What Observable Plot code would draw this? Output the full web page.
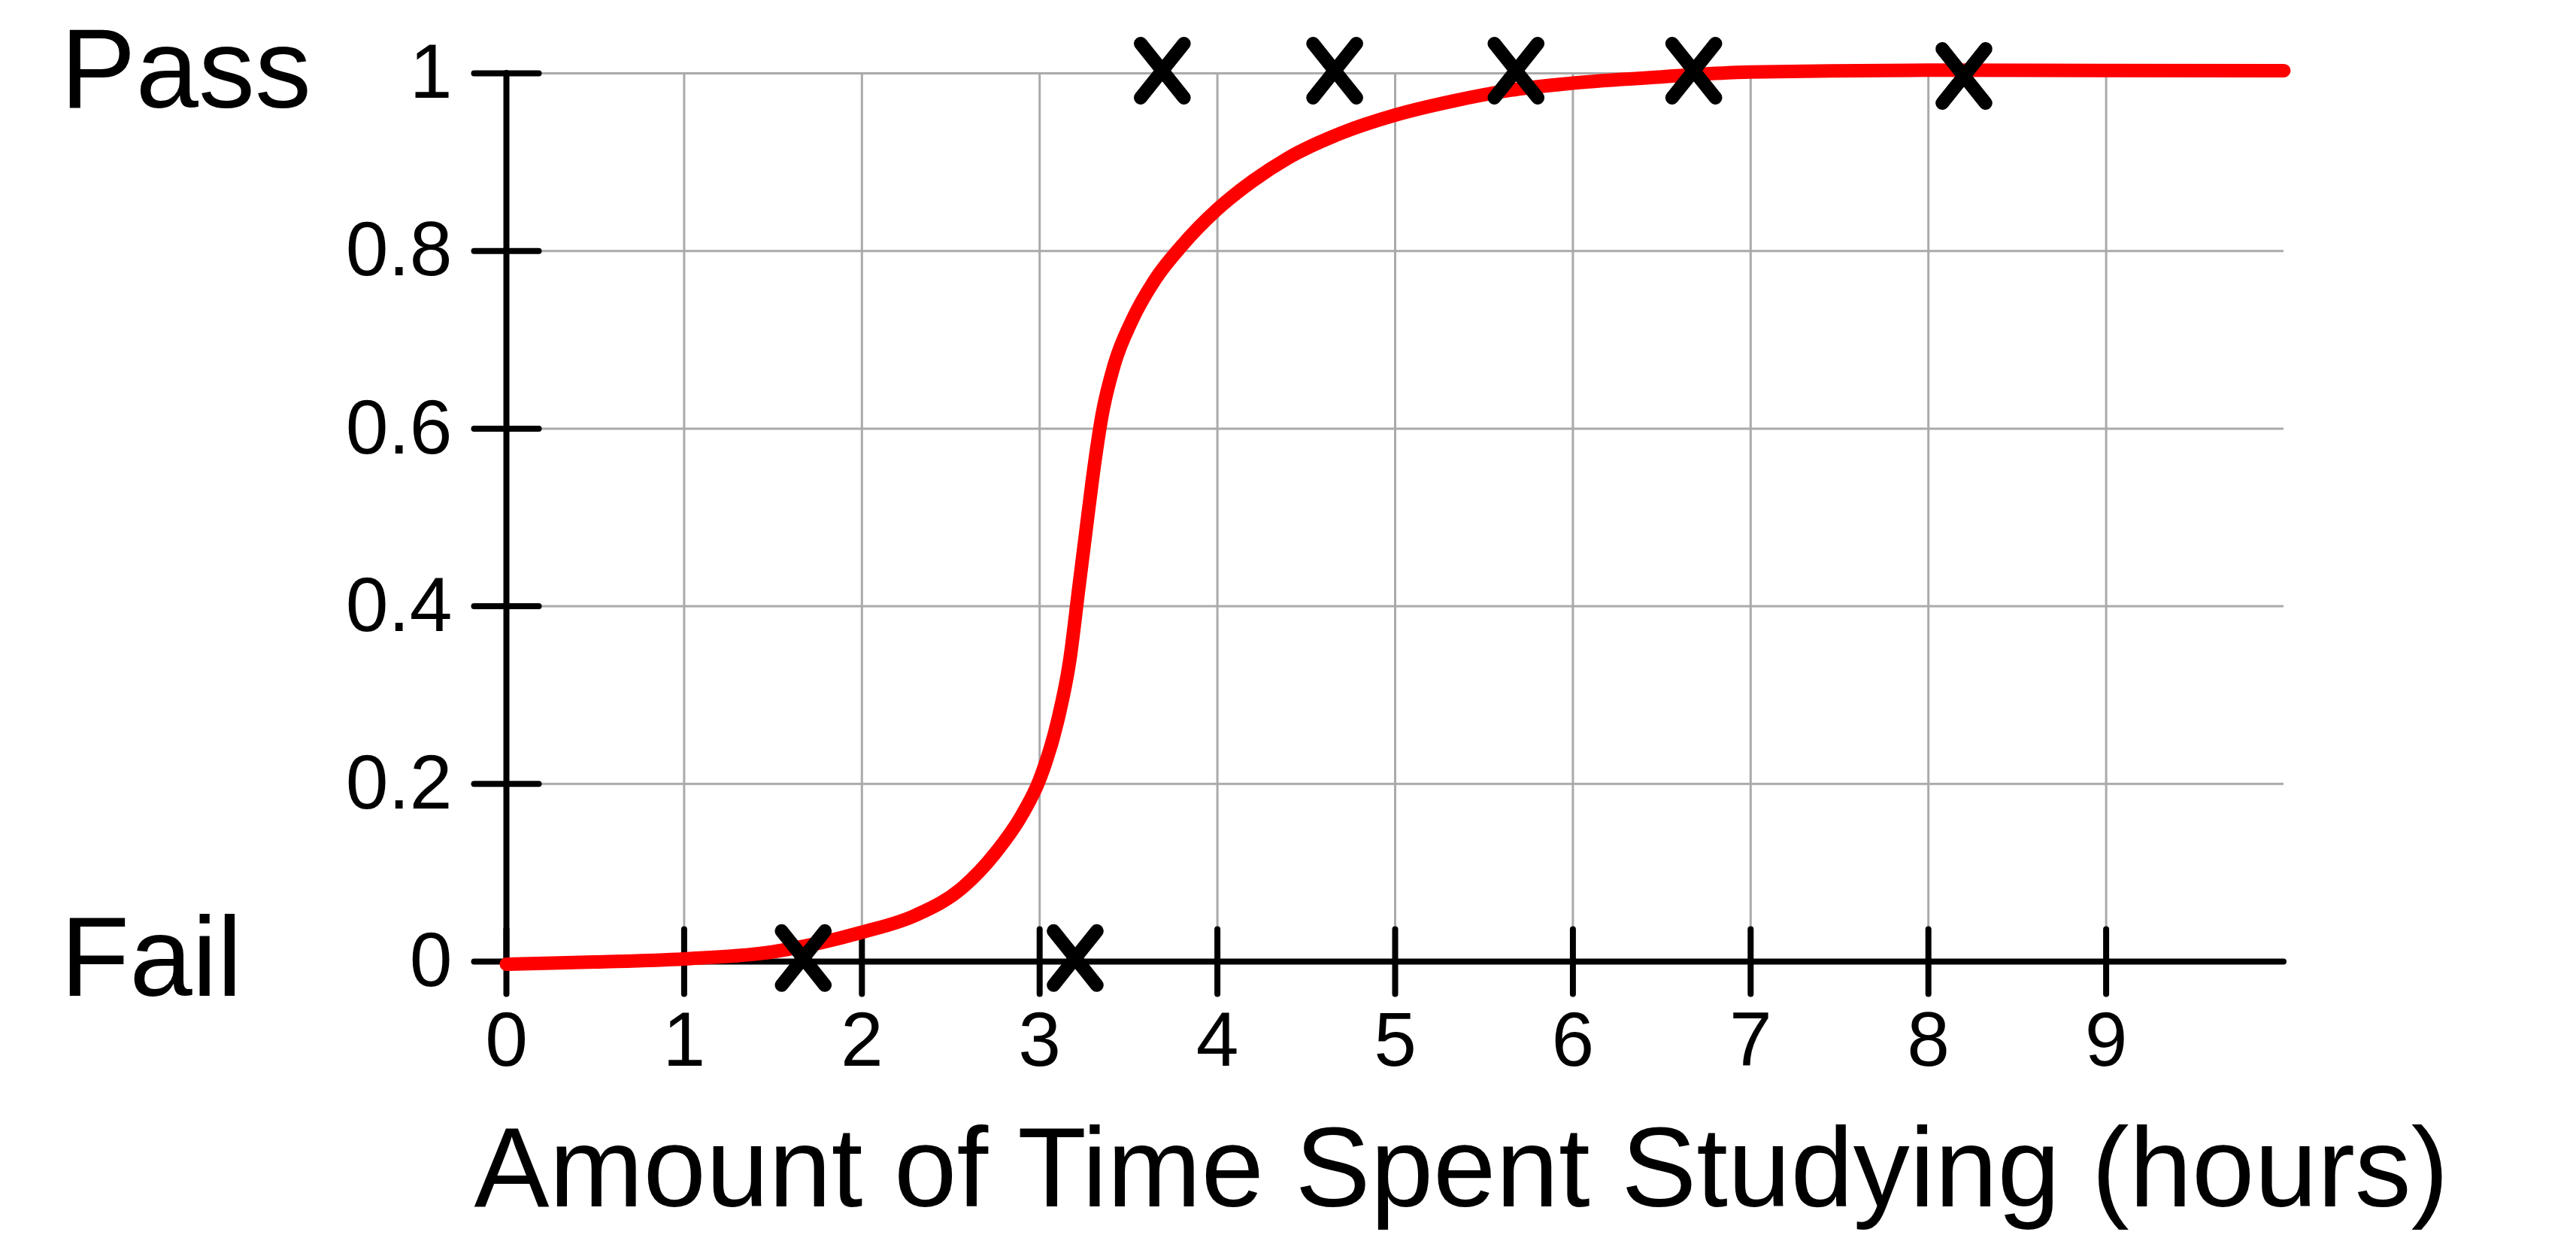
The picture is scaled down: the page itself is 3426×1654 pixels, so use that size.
<!DOCTYPE html>
<html>
<head>
<meta charset="utf-8">
<script src="https://cdn.jsdelivr.net/npm/d3@7"></script>
<script src="https://cdn.jsdelivr.net/npm/@observablehq/plot@0.6"></script>
<style>
  html, body { margin: 0; padding: 0; background: #ffffff; }
  #chart svg { display: block; }
</style>
</head>
<body>
<div id="chart"></div>
<script>
// ---- data ----
const curveHours = [0, 0.5, 1.0, 1.5, 2.0, 2.3, 2.57, 2.75, 2.9, 3.0, 3.1, 3.17, 3.22, 3.27, 3.31, 3.35, 3.42, 3.52, 3.65, 3.8, 4.0, 4.2, 4.4, 4.7, 5.0, 5.33, 5.65, 6.0, 6.5, 7.0, 8.0, 9.0, 10.0];
const curveProb  = [-0.003, -0.0005, 0.003, 0.011, 0.033, 0.052, 0.084, 0.122, 0.165, 0.205, 0.27, 0.34, 0.42, 0.50, 0.562, 0.614, 0.672, 0.722, 0.768, 0.806, 0.847, 0.879, 0.905, 0.933, 0.953, 0.969, 0.981, 0.989, 0.996, 1.0015, 1.0035, 1.0032, 1.003];

const failHours = [1.67, 3.2];
const failOutcome = [0.004, 0.004];
const passHours = [3.69, 4.66, 5.68, 6.68, 8.20];
const passOutcome = [1.003, 1.003, 1.003, 1.003, 0.997];

const xTicks = [0, 1, 2, 3, 4, 5, 6, 7, 8, 9];
const xTickLabels = ["0", "1", "2", "3", "4", "5", "6", "7", "8", "9"];
const yTicks = [0, 0.2, 0.4, 0.6, 0.8, 1];
const yTickLabels = ["0", "0.2", "0.4", "0.6", "0.8", "1"];
const xGrid = [1, 2, 3, 4, 5, 6, 7, 8, 9];
const yGrid = [0.2, 0.4, 0.6, 0.8, 1];

const outcomeLabels = ["Fail", "Pass"];
const outcomeValues = [0, 1];
const xTitle = "Amount of Time Spent Studying (hours)";

// ---- tables built from the arrays ----
const curve = curveHours.map((h, i) => ({h, p: curveProb[i]}));
const points = [
  ...failHours.map((h, i) => ({h, p: failOutcome[i]})),
  ...passHours.map((h, i) => ({h, p: passOutcome[i]}))
];
const outcomes = outcomeLabels.map((label, i) => ({label, value: outcomeValues[i]}));

// ---- custom symbols ----
const hBar = {draw(c, s) { const r = Math.sqrt(s / Math.PI); c.moveTo(-r, 0); c.lineTo(r, 0); }};
const vBar = {draw(c, s) { const r = Math.sqrt(s / Math.PI); c.moveTo(0, -r); c.lineTo(0, r); }};
const cross = {draw(c, s) {
  const r = Math.sqrt(s / Math.PI), w = 0.8 * r;
  c.moveTo(-w, -r); c.lineTo(w, r);
  c.moveTo(-w, r); c.lineTo(w, -r);
}};

const W = 3426, H = 1654;
const FONT = "'Liberation Sans', Arial, Helvetica, sans-serif";

const chart = Plot.plot({
  width: W,
  height: H,
  marginLeft: 673,
  marginRight: 389,
  marginTop: 97,
  marginBottom: 376,
  style: {fontFamily: FONT, fontSize: "102px", background: "#ffffff", color: "#000000", overflow: "visible"},
  x: {domain: [0, 10]},
  y: {domain: [0, 1]},
  marks: [
    // grid
    Plot.ruleX(xGrid, {stroke: "#aaaaaa", strokeWidth: 3}),
    Plot.ruleY(yGrid, {stroke: "#aaaaaa", strokeWidth: 3}),
    // axis lines
    Plot.ruleX([0], {stroke: "#000000", strokeWidth: 8, strokeLinecap: "round"}),
    Plot.ruleY([0], {stroke: "#000000", strokeWidth: 8, strokeLinecap: "round"}),
    // ticks crossing the axes
    Plot.dot(yTicks, {x: 0, y: d => d, r: 43, symbol: hBar, fill: "none", stroke: "#000000", strokeWidth: 8, strokeLinecap: "round"}),
    Plot.dot(xTicks, {x: d => d, y: 0, r: 43, symbol: vBar, fill: "none", stroke: "#000000", strokeWidth: 8, strokeLinecap: "round"}),
    // tick labels
    Plot.axisX({ticks: xTicks, tickSize: 0, tickPadding: 66, tickFormat: (d) => xTickLabels[xTicks.indexOf(d)], fontSize: 102, label: null}),
    Plot.axisY({ticks: yTicks, tickSize: 0, tickPadding: 72, tickFormat: (d) => yTickLabels[yTicks.indexOf(d)], fontSize: 102, label: null}),
    // logistic curve
    Plot.line(curve, {x: "h", y: "p", stroke: "#ff0000", strokeWidth: 18, curve: "monotone-x", strokeLinecap: "round", strokeLinejoin: "round"}),
    // observations
    Plot.dot(points, {x: "h", y: "p", r: 36, symbol: cross, fill: "none", stroke: "#000000", strokeWidth: 18, strokeLinecap: "round"}),
    // outcome labels
    Plot.text(outcomes, {y: "value", text: "label", frameAnchor: "left", lineAnchor: "middle", dx: -593, dy: -3, textAnchor: "start", fontSize: 150, fill: "#000000"}),
    // x title
    Plot.text([xTitle], {frameAnchor: "bottom-left", lineAnchor: "middle", dx: -43, dy: 277, textAnchor: "start", fontSize: 150, fill: "#000000"})
  ]
});

document.getElementById("chart").appendChild(chart);
</script>
</body>
</html>
